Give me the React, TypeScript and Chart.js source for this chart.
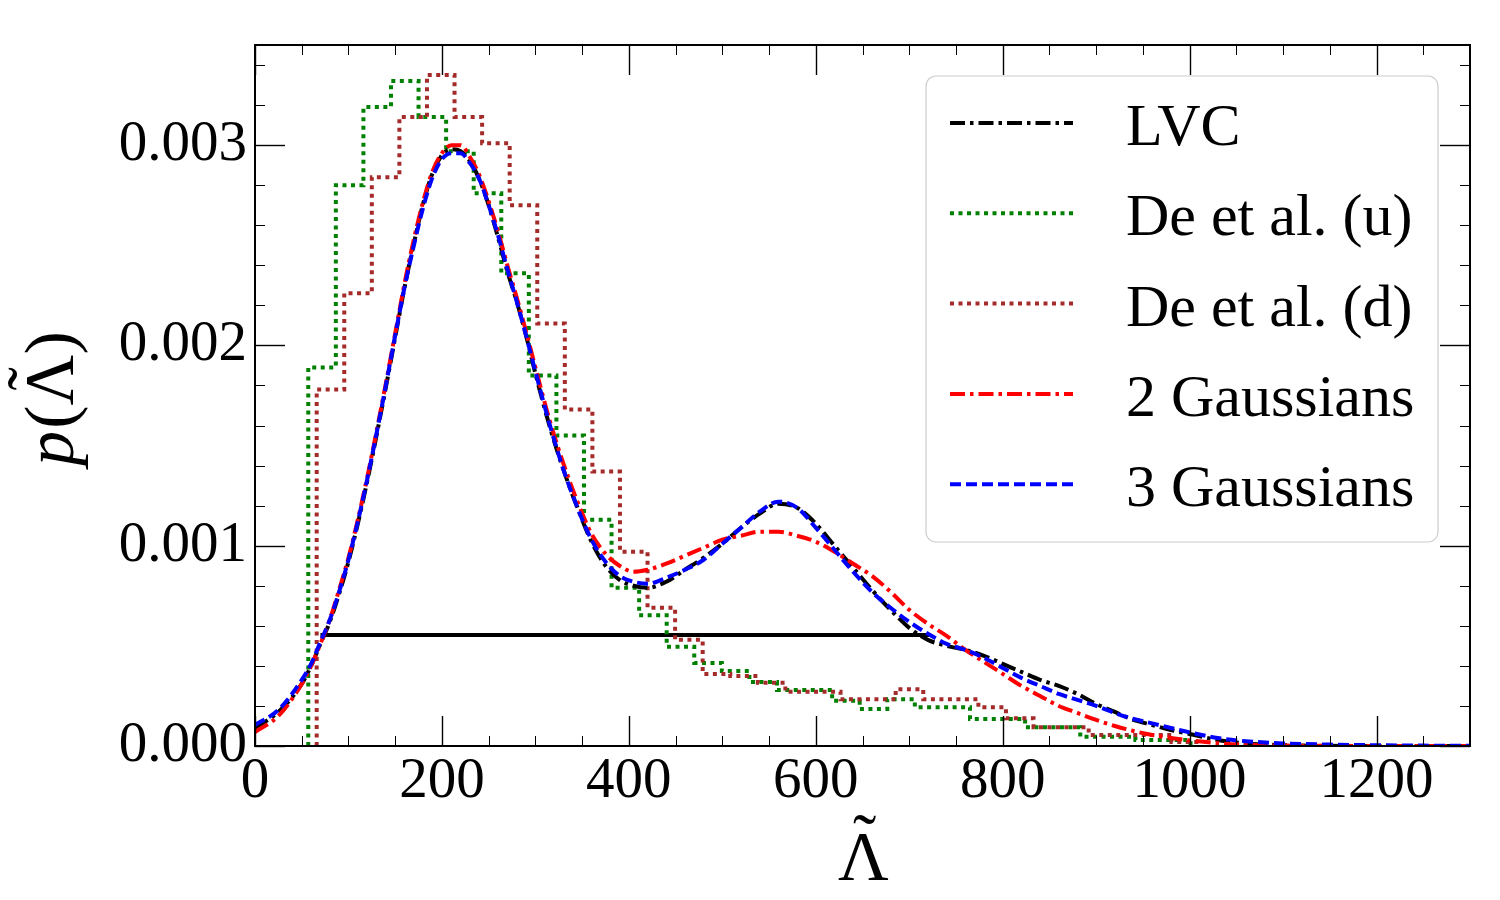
import { useEffect, useRef } from 'react';
import { Chart, registerables } from 'chart.js';

Chart.register(...registerables);

const SERIF = '"Liberation Serif", "DejaVu Serif", "Times New Roman", serif';

// Axis ranges and tick labels
const X_MIN = 0;
const X_MAX = 1300;
const Y_MIN = 0;
const Y_MAX = 0.0035;
const X_TICKS = [0, 200, 400, 600, 800, 1000, 1200];
const Y_TICKS = [0, 0.001, 0.002, 0.003];
const X_MINOR_STEP = 50;
const Y_MINOR_STEP = 0.0002;

// Histogram of De et al. (uniform mass prior): bin edges and densities
const DE_U_EDGES = [
  57, 86.5, 116, 145.5, 175, 204.5, 234, 263.5, 293, 322.5, 352, 381.5, 411, 440.5, 470, 499.5,
  529, 558.5, 588, 617.5, 647, 676.5, 706, 735.5, 765, 794.5, 824, 853.5, 883, 912.5, 942, 971.5, 1001,
];
const DE_U_DENSITY = [
  0.00189, 0.0028, 0.00319, 0.00332, 0.00314, 0.00297, 0.00276, 0.00236, 0.00185, 0.00155, 0.00113,
  0.00079, 0.000653, 0.000495, 0.000415, 0.000374, 0.00032, 0.000279, 0.000279, 0.000226, 0.000185,
  0.000234, 0.000194, 0.000194, 0.000135, 0.000135, 0.0000933, 0.0000933, 0.0000464, 0.0000464,
  0.00003, 0.00003,
];

// Histogram of De et al. (double neutron star mass prior)
const DE_D_EDGES = [
  66, 95.5, 125, 154.5, 184, 213.5, 243, 272.5, 302, 331.5, 361, 390.5, 420, 449.5, 479, 508.5,
  538, 567.5, 597, 626.5, 656, 685.5, 715, 744.5, 774, 803.5, 833, 862.5, 892, 921.5, 951, 980.5, 1010,
];
const DE_D_DENSITY = [
  0.00178, 0.00226, 0.00284, 0.00314, 0.00335, 0.00314, 0.00301, 0.0027, 0.00211, 0.00168, 0.00137,
  0.00097, 0.00069, 0.00053, 0.00036, 0.00035, 0.000316, 0.000271, 0.000271, 0.000233, 0.000233,
  0.000283, 0.000233, 0.000233, 0.000193, 0.000138, 0.0000933, 0.0000933, 0.000055, 0.000055,
  0.000055, 0.00002,
];

// Smooth posterior densities sampled on a common grid of tidal deformability
const LAMBDA_GRID = [
  0, 25, 50, 60, 70, 80, 90, 100, 110, 120, 130, 140, 150, 160, 170, 180, 190, 200, 210, 220, 230,
  240, 250, 260, 270, 280, 290, 300, 315, 330, 345, 360, 375, 390, 405, 420, 440, 460, 480, 500, 520,
  540, 560, 580, 600, 620, 640, 660, 680, 700, 720, 740, 760, 780, 800, 820, 840, 860, 880, 900, 920,
  940, 960, 980, 1000, 1030, 1060, 1100, 1150, 1200, 1250, 1300,
];
const LVC_DENSITY = [
  0.00009, 0.00017, 0.00031, 0.0004, 0.00051, 0.00062, 0.00076, 0.00092, 0.00111, 0.00132, 0.00155,
  0.00179, 0.00204, 0.00229, 0.00251, 0.00271, 0.00286, 0.00295, 0.00298, 0.00297, 0.00292, 0.00283,
  0.0027, 0.00254, 0.00237, 0.00222, 0.00205, 0.00186, 0.0016, 0.00138, 0.00119, 0.00102, 0.0009,
  0.00083, 0.0008, 0.00079, 0.00082, 0.00088, 0.00094, 0.00101, 0.00109, 0.00116, 0.00121, 0.00119,
  0.00111, 0.001, 0.00089, 0.00078, 0.00068, 0.00059, 0.00053, 0.0005, 0.00048, 0.00045, 0.00041,
  0.00037, 0.00033, 0.0003, 0.00026, 0.00021, 0.00017, 0.00013, 0.000105, 0.00008, 0.00006, 0.00003,
  0.000013, 0.000004, 0.000001, 0, 0, 0,
];
const TWO_GAUSS_DENSITY = [
  0.00007, 0.00015, 0.00031, 0.0004, 0.00051, 0.00063, 0.00078, 0.00094, 0.00113, 0.00134, 0.00157,
  0.00181, 0.00206, 0.00231, 0.00253, 0.00272, 0.00287, 0.00296, 0.003, 0.003, 0.00294, 0.00285,
  0.00272, 0.00257, 0.0024, 0.00224, 0.00207, 0.00189, 0.00163, 0.00141, 0.00122, 0.00106, 0.00096,
  0.0009, 0.00087, 0.00088, 0.00091, 0.00095, 0.00099, 0.00103, 0.00105, 0.00107, 0.00107, 0.00105,
  0.00102, 0.00097, 0.00091, 0.00085, 0.00077, 0.00068, 0.00061, 0.00055, 0.00048, 0.00042, 0.00036,
  0.0003, 0.00025, 0.0002, 0.000165, 0.00013, 0.0001, 0.000075, 0.000055, 0.00004, 0.000028, 0.000014,
  0.000006, 0.000002, 0.000001, 0, 0, 0,
];
const THREE_GAUSS_DENSITY = [
  0.000105, 0.00018, 0.00033, 0.00041, 0.00052, 0.00063, 0.00077, 0.00093, 0.00112, 0.00133, 0.00156,
  0.0018, 0.00205, 0.00229, 0.0025, 0.00269, 0.00284, 0.00293, 0.00296, 0.00296, 0.00291, 0.00283,
  0.0027, 0.00255, 0.00238, 0.00222, 0.00205, 0.00187, 0.00161, 0.00138, 0.00119, 0.00103, 0.00092,
  0.00085, 0.00082, 0.00081, 0.00084, 0.00088, 0.00093, 0.00101, 0.00109, 0.00117, 0.00122, 0.00119,
  0.00109, 0.00098, 0.00087, 0.00077, 0.00069, 0.00062, 0.00056, 0.00051, 0.00048, 0.00044, 0.00039,
  0.00034, 0.0003, 0.00026, 0.00023, 0.0002, 0.000165, 0.000135, 0.000113, 0.00009, 0.000068, 0.00004,
  0.000024, 0.000013, 0.000007, 0.000004, 0.000002, 0.000001,
];

// Highest-density interval of the LVC posterior: its bounds and density level
const HDI_BOUNDS = [70, 722];
const HDI_LEVEL = 0.000554;

const LEGEND_ORDER = ['LVC', 'De et al. (u)', 'De et al. (d)', '2 Gaussians', '3 Gaussians'];

// Step outline: rises from zero at the first edge, one flat segment per bin, back to zero
const histogramPoints = (edges: number[], density: number[]) => [
  { x: edges[0], y: 0 },
  ...density.map((d, i) => ({ x: edges[i + 1], y: d })),
  { x: edges[edges.length - 1], y: 0 },
];

const curvePoints = (density: number[]) => LAMBDA_GRID.map((x, i) => ({ x, y: density[i] }));

const DASH_DOT = [15, 5, 3.5, 5];
const DASHED = [11, 5];
const DOTTED = [4, 4.5];

// Λ with a tilde accent centred above it; (x, y) is the left end of the baseline
function drawTildeLambda(ctx: CanvasRenderingContext2D, x: number, y: number, size: number) {
  ctx.font = `${size}px ${SERIF}`;
  ctx.textAlign = 'left';
  const m = ctx.measureText('\u039B');
  ctx.fillText('\u039B', x, y);
  const t = ctx.measureText('\u02DC');
  const tw = t.actualBoundingBoxRight + t.actualBoundingBoxLeft;
  const cx = x + m.width / 2 + 1;
  const bottom = y - m.actualBoundingBoxAscent - 10;
  const b = bottom - t.actualBoundingBoxDescent;
  ctx.fillText('\u02DC', cx - tw / 2 + t.actualBoundingBoxLeft, b);
  return m.width;
}

const framePlugin = {
  id: 'frameAndTitles',
  afterDatasetsDraw(chart: any) {
    const { ctx, chartArea: a, scales } = chart;
    const xs = scales.x;
    const ys = scales.y;
    ctx.save();
    ctx.strokeStyle = '#000';
    const seg = (x1: number, y1: number, x2: number, y2: number) => {
      ctx.beginPath();
      ctx.moveTo(x1, y1);
      ctx.lineTo(x2, y2);
      ctx.stroke();
    };
    // minor ticks, pointing inwards on all four sides
    ctx.lineWidth = 1;
    for (let v = X_MIN; v <= X_MAX + 1e-9; v += X_MINOR_STEP) {
      if (X_TICKS.includes(v)) continue;
      const px = Math.round(xs.getPixelForValue(v)) + 0.5;
      seg(px, a.bottom, px, a.bottom - 10);
      seg(px, a.top, px, a.top + 10);
    }
    for (let k = 0; k * Y_MINOR_STEP <= Y_MAX + 1e-12; k++) {
      const v = k * Y_MINOR_STEP;
      if (Y_TICKS.some((t) => Math.abs(t - v) < 1e-9)) continue;
      const py = Math.round(ys.getPixelForValue(v)) + 0.5;
      seg(a.left, py, a.left + 10, py);
      seg(a.right, py, a.right - 10, py);
    }
    // major ticks
    ctx.lineWidth = 1.4;
    for (const v of X_TICKS) {
      const px = Math.round(xs.getPixelForValue(v)) + 0.5;
      seg(px, a.bottom, px, a.bottom - 30);
      seg(px, a.top, px, a.top + 30);
    }
    for (const v of Y_TICKS) {
      const py = Math.round(ys.getPixelForValue(v)) + 0.5;
      seg(a.left, py, a.left + 30, py);
      seg(a.right, py, a.right - 30, py);
    }
    // axes frame
    ctx.lineWidth = 2;
    ctx.strokeRect(a.left, a.top, a.right - a.left, a.bottom - a.top);

    // x-axis title
    ctx.fillStyle = '#000';
    ctx.textBaseline = 'alphabetic';
    ctx.font = `70px ${SERIF}`;
    const wL = ctx.measureText('\u039B').width;
    drawTildeLambda(ctx, (a.left + a.right) / 2 + 1 - wL / 2, 880, 70);

    // y-axis title, rotated: italic p, then (Λ̃)
    ctx.translate(73, (a.top + a.bottom) / 2 + 3);
    ctx.rotate(-Math.PI / 2);
    ctx.textAlign = 'left';
    const italic = `italic 70px ${SERIF}`;
    const upright = `70px ${SERIF}`;
    ctx.font = italic;
    const wP = ctx.measureText('p').width;
    ctx.font = upright;
    const wOpen = ctx.measureText('(').width;
    const wClose = ctx.measureText(')').width;
    const total = wP + 2 + wOpen + wL + wClose;
    let cur = -total / 2;
    ctx.font = italic;
    ctx.fillText('p', cur, 0);
    cur += wP + 2;
    ctx.font = upright;
    ctx.fillText('(', cur, 0);
    cur += wOpen;
    drawTildeLambda(ctx, cur, 0, 70);
    cur += wL;
    ctx.font = upright;
    ctx.fillText(')', cur, 0);
    ctx.restore();
  },
  afterDraw(chart: any) {
    const { ctx, chartArea: a } = chart;
    const box = { left: a.right - 544, top: a.top + 31, width: 512, height: 466 };
    ctx.save();
    ctx.beginPath();
    ctx.roundRect(box.left, box.top, box.width, box.height, 10);
    ctx.fillStyle = 'rgba(255,255,255,0.8)';
    ctx.fill();
    ctx.strokeStyle = '#cccccc';
    ctx.lineWidth = 1.2;
    ctx.stroke();
    ctx.font = `60px ${SERIF}`;
    ctx.textAlign = 'left';
    ctx.textBaseline = 'alphabetic';
    LEGEND_ORDER.forEach((label, i) => {
      const ds = chart.data.datasets.find((d: any) => d.label === label);
      if (!ds) return;
      const y = box.top + 47 + i * 90.3;
      ctx.beginPath();
      ctx.setLineDash(ds.borderDash || []);
      ctx.lineWidth = ds.borderWidth;
      ctx.strokeStyle = ds.borderColor;
      ctx.moveTo(box.left + 24, y);
      ctx.lineTo(box.left + 147, y);
      ctx.stroke();
      ctx.setLineDash([]);
      ctx.fillStyle = '#000';
      ctx.fillText(label, box.left + 200, y + 22);
    });
    ctx.restore();
  },
};

export default function App() {
  const canvasRef = useRef<HTMLCanvasElement | null>(null);

  useEffect(() => {
    const canvas = canvasRef.current;
    if (!canvas) return;
    const chart = new Chart(canvas, {
      type: 'line',
      data: {
        datasets: [
          {
            label: 'LVC',
            data: curvePoints(LVC_DENSITY),
            borderColor: '#000000',
            borderWidth: 4,
            borderDash: DASH_DOT,
            cubicInterpolationMode: 'monotone',
            pointRadius: 0,
            fill: false,
            order: 3,
          },
          {
            label: 'De et al. (u)',
            data: histogramPoints(DE_U_EDGES, DE_U_DENSITY),
            borderColor: '#008000',
            borderWidth: 4,
            borderDash: DOTTED,
            stepped: 'after',
            pointRadius: 0,
            fill: false,
            order: 5,
          },
          {
            label: 'De et al. (d)',
            data: histogramPoints(DE_D_EDGES, DE_D_DENSITY),
            borderColor: '#a52a2a',
            borderWidth: 4,
            borderDash: DOTTED,
            stepped: 'after',
            pointRadius: 0,
            fill: false,
            order: 4,
          },
          {
            label: '2 Gaussians',
            data: curvePoints(TWO_GAUSS_DENSITY),
            borderColor: '#ff0000',
            borderWidth: 4,
            borderDash: DASH_DOT,
            cubicInterpolationMode: 'monotone',
            pointRadius: 0,
            fill: false,
            order: 2,
          },
          {
            label: '3 Gaussians',
            data: curvePoints(THREE_GAUSS_DENSITY),
            borderColor: '#0000ff',
            borderWidth: 4,
            borderDash: DASHED,
            cubicInterpolationMode: 'monotone',
            pointRadius: 0,
            fill: false,
            order: 1,
          },
          {
            label: 'HDI',
            data: HDI_BOUNDS.map((x) => ({ x, y: HDI_LEVEL })),
            borderColor: '#000000',
            borderWidth: 4,
            pointRadius: 0,
            fill: false,
            order: 6,
          },
        ],
      },
      options: {
        animation: false,
        responsive: false,
        devicePixelRatio: 1,
        layout: { padding: { left: 0, top: 45, right: 30, bottom: 0 } },
        plugins: { legend: { display: false }, tooltip: { enabled: false } },
        scales: {
          x: {
            type: 'linear',
            min: X_MIN,
            max: X_MAX,
            grid: { display: false, drawTicks: false },
            border: { display: false },
            afterBuildTicks: (s: any) => {
              s.ticks = X_TICKS.map((value) => ({ value }));
            },
            afterFit: (s: any) => {
              s.height = 154;
            },
            ticks: {
              color: '#000',
              font: { family: SERIF, size: 57 },
              padding: 2,
              maxRotation: 0,
              autoSkip: false,
              callback: (v: any) => String(v),
            },
          },
          y: {
            type: 'linear',
            min: Y_MIN,
            max: Y_MAX,
            grid: { display: false, drawTicks: false },
            border: { display: false },
            afterBuildTicks: (s: any) => {
              s.ticks = Y_TICKS.map((value) => ({ value }));
            },
            afterFit: (s: any) => {
              s.width = 255;
            },
            ticks: {
              color: '#000',
              font: { family: SERIF, size: 57 },
              padding: 8,
              callback: (v: any) => Number(v).toFixed(3),
            },
          },
        },
      },
      plugins: [framePlugin],
    });
    return () => chart.destroy();
  }, []);

  return (
    <div style={{ position: 'absolute', left: 0, top: 0, width: 1500, height: 900, background: '#fff' }}>
      <canvas ref={canvasRef} width={1500} height={900} />
    </div>
  );
}
